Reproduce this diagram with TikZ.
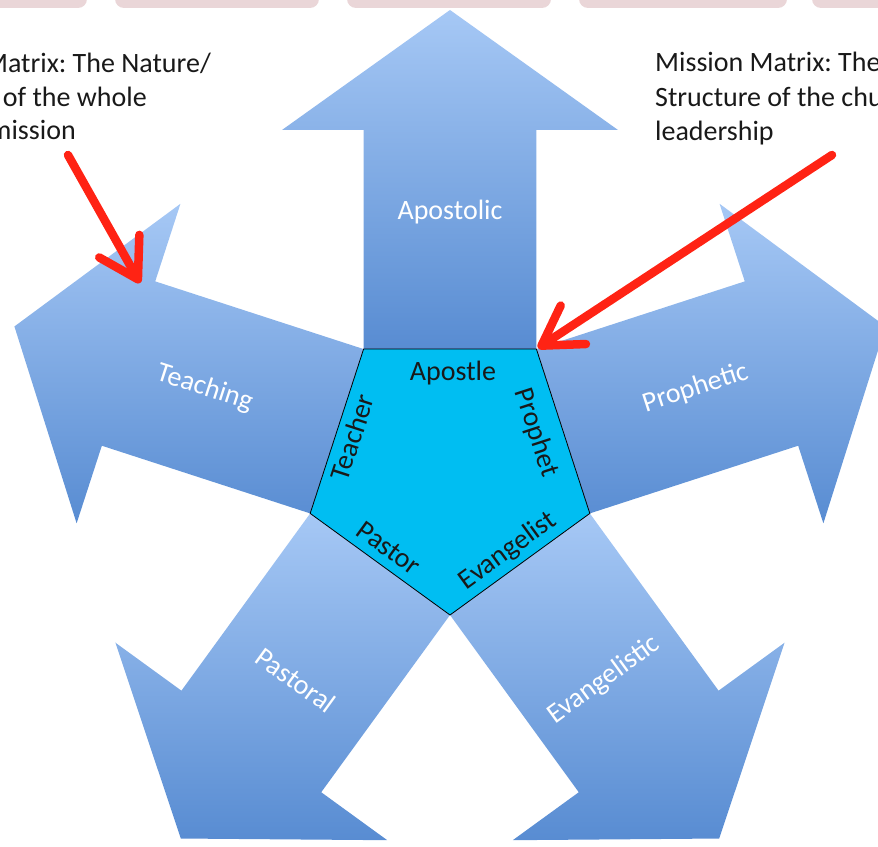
\documentclass[tikz,border=0pt]{standalone}
\usepackage{fontspec}
\setmainfont{Carlito}
\usetikzlibrary{calc,arrows.meta}
\definecolor{arrlight}{RGB}{166,200,245}
\definecolor{arrdark}{RGB}{88,140,210}
\definecolor{pentcyan}{RGB}{0,190,242}
\definecolor{redarr}{RGB}{255,35,20}
\definecolor{pinkbox}{RGB}{234,214,216}
\definecolor{txt}{RGB}{25,25,25}
\frenchspacing
\begin{document}
\begin{tikzpicture}[x=1pt,y=1pt,
  arrowshape/.style={top color=arrlight, bottom color=arrdark},
  armlabel/.style={text=white, font=\fontsize{28}{30}\selectfont, inner sep=0pt},
  pentlabel/.style={text=txt, font=\fontsize{28}{30}\selectfont, inner sep=0pt},
  note/.style={text=txt, font=\fontsize{28}{34}\selectfont, inner sep=0pt},
  pointer/.style={draw=redarr, line width=8.5pt, line cap=round, -{Straight Barb[length=38pt,width=46pt,round]}},
]
\useasboundingbox (0,0) rectangle (878,846);
\clip (0,0) rectangle (878,846);
\coordinate (C) at (450,378);
% top boxes
\foreach \a/\b in {-120/87,115/319,347/551,579/787,812/1000}{
  \fill[pinkbox, rounded corners=9pt] (\a,838) rectangle (\b,870);
}
% five arrows
\foreach \t in {90,162,234,306,18}{
  \shade[arrowshape] ($(C)+(\t+36:147)$) -- ($(C)+(\t:338)+(\t+90:86.4)$) -- ($(C)+(\t:338)+(\t+90:168)$) -- ($(C)+(\t:458)$) -- ($(C)+(\t:338)+(\t-90:168)$) -- ($(C)+(\t:338)+(\t-90:86.4)$) -- ($(C)+(\t-36:147)$) -- cycle;
}
% pentagon
\foreach \i in {0,...,4} \coordinate (P\i) at ($(C)+(126-72*\i:147)$);
\draw[fill=pentcyan, draw=black, line width=0.8pt] (P0) -- (P1) -- (P2) -- (P3) -- (P4) -- cycle;
% arrow labels
\node[armlabel] (lApostolic) at ($(C)+(90:256)$) {Apostolic};
\node[armlabel, rotate=18] (lProphetic) at ($(C)+(18:258)$) {Prophetic};
\node[armlabel, rotate=-18] (lTeaching) at ($(C)+(162:258)$) {Teaching};
\node[armlabel, rotate=-36] (lPastoral) at ($(C)+(234:262)$) {Pastoral};
\node[armlabel, rotate=36] (lEvangelistic) at ($(C)+(306:262)$) {Evangelistic};
% pentagon labels
\node[pentlabel] (tApostle) at (453,473) {Apostle};
\node[pentlabel, rotate=72] (tTeacher) at (352,409) {Teacher};
\node[pentlabel, rotate=-72] (tProphet) at (536,413) {Prophet};
\node[pentlabel, rotate=-36] (tPastor) at (389,298) {Pastor};
\node[pentlabel, rotate=36] (tEvangelist) at (508,295) {Evangelist};
% notes
\node[note, anchor=base east] (nl1) at (211,773) {Matrix: The Nature/};
\node[note, anchor=base east] (nl2) at (147,739) {of the whole};
\node[note, anchor=base east] (nl3) at (76,706) {mission};
\node[note, anchor=base west] (nr1) at (655,774) {Mission Matrix: The};
\node[note, anchor=base west] (nr2) at (655,739) {Structure of the chu};
\node[note, anchor=base west] (nr3) at (655,705) {leadership};
% red pointers
\coordinate (r1s) at (68,691);
\coordinate (r1e) at (140,563);
\coordinate (r2s) at (832,691);
\coordinate (r2e) at (538,498);
\draw[pointer] (r1s) -- (r1e);
\draw[pointer] (r2s) -- (r2e);
\end{tikzpicture}
\end{document}
